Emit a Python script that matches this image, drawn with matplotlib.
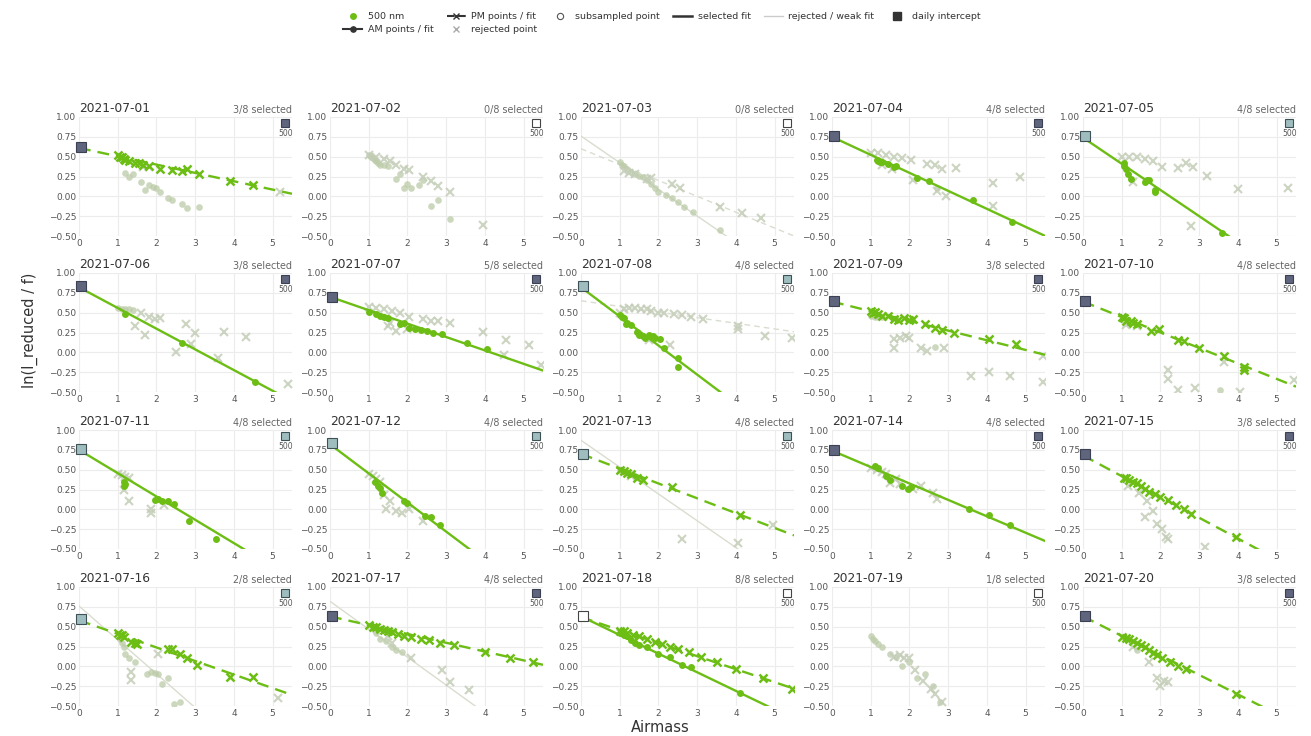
import numpy as np
import matplotlib
matplotlib.use("Agg")
import matplotlib.pyplot as plt
from matplotlib.lines import Line2D

# ---- data ----
dates = ["2021-07-01", "2021-07-02", "2021-07-03", "2021-07-04", "2021-07-05",
         "2021-07-06", "2021-07-07", "2021-07-08", "2021-07-09", "2021-07-10",
         "2021-07-11", "2021-07-12", "2021-07-13", "2021-07-14", "2021-07-15",
         "2021-07-16", "2021-07-17", "2021-07-18", "2021-07-19", "2021-07-20"]
n_selected = [3, 0, 0, 4, 4, 3, 5, 4, 3, 4, 4, 4, 4, 4, 3, 2, 4, 8, 1, 3]
quality = ["dark", "none", "none", "dark", "light", "dark", "dark", "light", "dark", "dark",
           "light", "light", "light", "dark", "dark", "light", "dark", "none", "none", "dark"]
intercepts = [0.62, None, None, 0.76, 0.76, 0.83, 0.70, 0.83, 0.65, 0.65,
              0.76, 0.83, 0.70, 0.75, 0.70, 0.60, 0.64, 0.63, None, 0.64]

# fits: (intercept, slope, selected?)  None = no fit drawn
am_fit = [None, None, (0.76, -0.336, False), (0.75, -0.227, True), (0.74, -0.33, True),
          (0.82, -0.261, True), (0.70, -0.169, True), (0.82, -0.367, True), None, None,
          (0.75, -0.294, True), (0.82, -0.367, True), (0.87, -0.338, False), (0.74, -0.207, True), None,
          (0.76, -0.427, False), (0.82, -0.352, False), (0.63, -0.235, True), None, None]
pm_fit = [(0.61, -0.105, True), None, (0.60, -0.20, False), None, None,
          None, None, (0.65, -0.071, False), (0.64, -0.122, True), (0.64, -0.195, True),
          None, None, (0.70, -0.187, True), None, (0.68, -0.262, True),
          (0.58, -0.171, True), (0.63, -0.111, True), (0.62, -0.164, True), None, (0.63, -0.246, True)]

# selected AM points (green circles)
am_sel = [
    [], [], [],
    [(1.15, 0.46), (1.2, 0.45), (1.25, 0.43), (1.3, 0.43), (1.45, 0.41), (1.6, 0.37), (1.65, 0.38),
     (2.2, 0.23), (2.5, 0.19), (3.65, -0.04), (4.65, -0.32)],
    [(1.05, 0.42), (1.07, 0.38), (1.1, 0.35), (1.15, 0.28), (1.25, 0.22), (1.6, 0.18), (1.65, 0.2),
     (1.7, 0.21), (1.85, 0.08), (1.87, 0.05), (3.6, -0.46)],
    [(1.2, 0.48), (2.65, 0.12), (4.55, -0.38)],
    [(1.0, 0.51), (1.2, 0.48), (1.3, 0.46), (1.4, 0.44), (1.5, 0.43), (1.8, 0.36), (1.9, 0.37),
     (2.05, 0.31), (2.2, 0.29), (2.35, 0.28), (2.5, 0.27), (2.65, 0.25), (2.9, 0.23), (3.55, 0.12), (4.05, 0.04)],
    [(1.0, 0.47), (1.05, 0.44), (1.1, 0.43), (1.15, 0.36), (1.2, 0.37), (1.3, 0.35), (1.45, 0.26),
     (1.5, 0.22), (1.6, 0.2), (1.65, 0.18), (1.75, 0.22), (1.85, 0.2), (1.9, 0.18), (2.05, 0.17),
     (2.15, 0.06), (2.5, -0.07), (2.5, -0.18)],
    [], [],
    [(1.15, 0.35), (1.17, 0.3), (1.2, 0.32), (1.95, 0.12), (2.05, 0.13), (2.15, 0.11), (2.3, 0.1),
     (2.45, 0.07), (2.85, -0.15), (3.55, -0.38)],
    [(1.15, 0.35), (1.25, 0.3), (1.3, 0.27), (1.35, 0.2), (1.9, 0.1), (2.0, 0.08), (2.45, -0.08),
     (2.6, -0.1), (2.85, -0.2)],
    [],
    [(1.1, 0.54), (1.2, 0.52), (1.4, 0.42), (1.5, 0.37), (1.8, 0.3), (1.95, 0.26), (2.05, 0.28),
     (3.55, 0.0), (4.05, -0.07), (4.6, -0.2)],
    [], [], [],
    [(1.0, 0.42), (1.1, 0.4), (1.2, 0.38), (1.3, 0.33), (1.4, 0.3), (1.5, 0.27), (1.7, 0.24),
     (2.0, 0.16), (2.3, 0.12), (2.6, 0.02), (2.85, -0.01), (4.1, -0.33)],
    [], [],
]

# selected PM points (green crosses)
pm_sel = [
    [(1.0, 0.52), (1.05, 0.5), (1.1, 0.49), (1.15, 0.47), (1.2, 0.46), (1.3, 0.45), (1.45, 0.42),
     (1.55, 0.42), (1.65, 0.4), (1.8, 0.38), (2.1, 0.34), (2.4, 0.33), (2.65, 0.32), (2.8, 0.35),
     (3.1, 0.28), (3.9, 0.19), (4.5, 0.14)],
    [], [], [], [], [], [], [],
    [(1.0, 0.52), (1.05, 0.5), (1.1, 0.51), (1.2, 0.48), (1.3, 0.46), (1.45, 0.46), (1.6, 0.42),
     (1.7, 0.41), (1.85, 0.43), (2.0, 0.41), (2.1, 0.42), (2.4, 0.36), (2.65, 0.31), (2.85, 0.28),
     (3.15, 0.25), (4.05, 0.17), (4.75, 0.1)],
    [(1.0, 0.45), (1.05, 0.43), (1.1, 0.4), (1.25, 0.39), (1.3, 0.37), (1.4, 0.36), (1.75, 0.27),
     (1.95, 0.3), (2.45, 0.16), (2.6, 0.14), (3.0, 0.06), (3.65, -0.04), (4.15, -0.18), (4.15, -0.22)],
    [], [],
    [(1.0, 0.5), (1.1, 0.48), (1.2, 0.46), (1.3, 0.44), (1.45, 0.4), (1.6, 0.37), (2.35, 0.28), (4.1, -0.07)],
    [],
    [(1.05, 0.4), (1.1, 0.39), (1.2, 0.37), (1.3, 0.35), (1.4, 0.33), (1.5, 0.3), (1.6, 0.26),
     (1.7, 0.22), (1.85, 0.19), (2.0, 0.15), (2.2, 0.12), (2.4, 0.05), (2.6, 0.0), (2.8, -0.06), (3.95, -0.35)],
    [(1.0, 0.42), (1.05, 0.4), (1.1, 0.39), (1.15, 0.37), (1.35, 0.31), (1.45, 0.3), (1.5, 0.28),
     (2.3, 0.22), (2.4, 0.22), (2.6, 0.15), (2.8, 0.1), (3.05, 0.02), (3.9, -0.13), (4.5, -0.14)],
    [(1.0, 0.52), (1.1, 0.5), (1.2, 0.49), (1.3, 0.47), (1.4, 0.46), (1.5, 0.44), (1.6, 0.43),
     (1.75, 0.41), (1.9, 0.38), (2.1, 0.37), (2.35, 0.34), (2.55, 0.33), (2.85, 0.3), (3.2, 0.27),
     (4.0, 0.18), (4.65, 0.11), (5.25, 0.05)],
    [(1.0, 0.45), (1.1, 0.44), (1.2, 0.42), (1.35, 0.4), (1.5, 0.38), (1.7, 0.34), (1.9, 0.31),
     (2.1, 0.28), (2.3, 0.25), (2.5, 0.22), (2.8, 0.18), (3.1, 0.12), (3.5, 0.06), (4.0, -0.03),
     (4.7, -0.15), (5.45, -0.28)],
    [],
    [(1.0, 0.37), (1.1, 0.36), (1.2, 0.34), (1.3, 0.32), (1.4, 0.3), (1.5, 0.27), (1.6, 0.24),
     (1.7, 0.2), (1.8, 0.17), (1.9, 0.14), (2.05, 0.1), (2.25, 0.05), (2.45, 0.01), (2.65, -0.03), (3.95, -0.35)],
]

# rejected AM points (pale circles)
am_rej = [
    [(1.2, 0.3), (1.3, 0.25), (1.4, 0.28), (1.6, 0.18), (1.7, 0.08), (1.8, 0.14), (1.9, 0.12),
     (2.0, 0.1), (2.1, 0.05), (2.3, -0.02), (2.4, -0.05), (2.65, -0.1), (2.8, -0.15), (3.1, -0.13)],
    [(1.0, 0.52), (1.05, 0.5), (1.1, 0.48), (1.15, 0.46), (1.2, 0.44), (1.25, 0.42), (1.3, 0.4),
     (1.4, 0.39), (1.5, 0.38), (1.7, 0.22), (1.8, 0.28), (1.9, 0.1), (2.0, 0.15), (2.1, 0.1),
     (2.3, 0.14), (2.4, 0.2), (2.6, -0.12), (2.8, -0.05), (3.1, -0.28)],
    [(1.0, 0.43), (1.05, 0.4), (1.1, 0.38), (1.2, 0.35), (1.3, 0.31), (1.4, 0.28), (1.5, 0.26),
     (1.6, 0.24), (1.7, 0.2), (1.8, 0.15), (1.9, 0.1), (2.0, 0.06), (2.2, 0.02), (2.35, -0.02),
     (2.5, -0.07), (2.65, -0.13), (2.9, -0.2), (3.6, -0.43)],
    [(2.7, 0.1)], [],
    [(1.0, 0.56), (1.1, 0.55), (1.2, 0.55), (1.3, 0.54), (1.4, 0.53)],
    [], [],
    [(1.0, 0.46), (1.1, 0.45), (1.2, 0.45), (1.3, 0.44), (2.65, 0.07)],
    [(3.55, -0.48)],
    [], [],
    [(1.0, 0.5), (1.1, 0.48), (1.2, 0.46), (1.3, 0.44), (1.4, 0.42), (1.5, 0.4)],
    [], [],
    [(1.05, 0.35), (1.1, 0.3), (1.15, 0.25), (1.2, 0.15), (1.3, 0.1), (1.45, 0.05), (1.75, -0.1),
     (1.85, -0.07), (1.95, -0.08), (2.05, -0.1), (2.15, -0.22), (2.3, -0.15), (2.45, -0.47), (2.6, -0.45)],
    [(1.2, 0.42), (1.3, 0.35), (1.45, 0.32), (1.6, 0.25), (1.7, 0.2), (1.85, 0.18)],
    [],
    [(1.0, 0.38), (1.05, 0.35), (1.1, 0.32), (1.2, 0.28), (1.3, 0.25), (1.5, 0.15), (1.65, 0.12),
     (1.8, 0.0), (2.0, 0.05), (2.2, -0.15), (2.4, -0.1), (2.6, -0.25), (2.8, -0.45)],
    [(1.4, 0.2)],
]

# rejected PM points (pale crosses)
pm_rej = [
    [(1.65, 0.37), (1.8, 0.37), (5.2, 0.05)],
    [(1.0, 0.52), (1.2, 0.5), (1.4, 0.47), (1.55, 0.45), (1.7, 0.4), (1.9, 0.35), (2.05, 0.33),
     (2.4, 0.25), (2.6, 0.19), (2.8, 0.13), (3.1, 0.06), (3.95, -0.36)],
    [(1.1, 0.32), (1.25, 0.3), (1.4, 0.28), (1.7, 0.22), (1.8, 0.23), (2.35, 0.15), (2.55, 0.1),
     (3.6, -0.14), (4.15, -0.21), (4.65, -0.27)],
    [(1.0, 0.55), (1.2, 0.54), (1.4, 0.52), (1.6, 0.5), (1.8, 0.48), (2.05, 0.46), (2.45, 0.41),
     (2.65, 0.4), (2.85, 0.35), (3.2, 0.36), (4.15, 0.17), (4.85, 0.25), (1.3, 0.4), (1.55, 0.35),
     (2.1, 0.21), (2.7, 0.07), (2.95, 0.0), (4.15, -0.12)],
    [(1.0, 0.5), (1.2, 0.5), (1.4, 0.49), (1.6, 0.47), (1.8, 0.45), (2.05, 0.37), (2.45, 0.36),
     (2.65, 0.42), (2.85, 0.37), (3.2, 0.26), (4.0, 0.09), (5.3, 0.11), (1.3, 0.18), (2.8, -0.38)],
    [(1.6, 0.49), (1.8, 0.44), (1.95, 0.42), (2.1, 0.43), (1.45, 0.33), (1.7, 0.22), (2.5, 0.01),
     (2.75, 0.36), (2.9, 0.1), (3.0, 0.25), (3.6, -0.07), (3.75, 0.26), (4.3, 0.19), (5.4, -0.4)],
    [(1.0, 0.57), (1.2, 0.56), (1.4, 0.54), (1.6, 0.52), (1.8, 0.5), (2.05, 0.45), (2.4, 0.42),
     (2.6, 0.4), (2.8, 0.4), (3.1, 0.37), (3.95, 0.26), (4.55, 0.15), (5.15, 0.09), (5.45, -0.16),
     (1.5, 0.33), (1.55, 0.37), (1.7, 0.27), (2.0, 0.3), (4.5, -0.03)],
    [(1.0, 0.5), (1.1, 0.55), (1.25, 0.56), (1.4, 0.56), (1.55, 0.55), (1.7, 0.54), (1.8, 0.52),
     (2.0, 0.5), (2.15, 0.5), (2.4, 0.48), (2.6, 0.47), (2.85, 0.45), (3.15, 0.42), (4.05, 0.3),
     (4.05, 0.33), (4.75, 0.2), (5.45, 0.18), (2.3, 0.09), (1.75, 0.16)],
    [(1.6, 0.17), (1.6, 0.06), (1.75, 0.18), (1.9, 0.2), (2.0, 0.18), (2.3, 0.06), (2.45, 0.02),
     (2.9, 0.06), (3.6, -0.3), (4.05, -0.25), (4.6, -0.3), (5.45, -0.38), (5.45, -0.04)],
    [(1.1, 0.35), (1.4, 0.33), (2.2, -0.22), (2.2, -0.33), (2.45, -0.48), (2.9, -0.45), (3.65, -0.12),
     (4.05, -0.5), (5.45, -0.35)],
    [(1.0, 0.45), (1.1, 0.43), (1.2, 0.41), (1.3, 0.4), (1.15, 0.25), (1.3, 0.1), (1.85, -0.05),
     (1.85, 0.0), (2.2, 0.05)],
    [(1.0, 0.45), (1.1, 0.42), (1.2, 0.38), (1.3, 0.35), (1.4, 0.18), (1.45, 0.0), (1.55, 0.1),
     (1.7, -0.02), (1.85, -0.04), (2.05, 0.0), (2.4, -0.15)],
    [(1.3, 0.42), (2.6, -0.38), (4.05, -0.42), (4.95, -0.2)],
    [(1.0, 0.52), (1.15, 0.5), (1.3, 0.47), (1.4, 0.45), (1.5, 0.33), (1.65, 0.38), (1.75, 0.32),
     (2.1, 0.26), (2.3, 0.3), (2.6, 0.2), (2.7, 0.13)],
    [(1.15, 0.3), (1.45, 0.2), (1.6, -0.1), (1.65, 0.1), (1.8, -0.02), (1.9, -0.18), (2.05, -0.25),
     (2.15, -0.35), (2.2, -0.38), (3.15, -0.47)],
    [(1.35, -0.07), (1.35, -0.17), (2.05, 0.15), (5.15, -0.4)],
    [(1.5, 0.38), (1.6, 0.3), (2.1, 0.1), (2.9, -0.05), (3.1, -0.2), (3.6, -0.3)],
    [],
    [(1.6, 0.12), (1.75, 0.14), (1.85, 0.1), (2.0, 0.1), (2.15, -0.05), (2.35, -0.18), (2.55, -0.28),
     (2.65, -0.35), (2.85, -0.45)],
    [(1.3, 0.25), (1.7, 0.05), (1.9, -0.15), (2.0, -0.25), (2.1, -0.18), (2.2, -0.2)],
]

GREEN = "#6cbd14"
PALE_DOT = "#bccba8"
PALE_X = "#c4cdb8"
PALE_LINE = "#d9ddcf"
SQ = {"dark": ("#5e657d", "#3b4052"), "light": ("#9fbdbf", "#3e5155"), "none": ("#ffffff", "#444444")}

plt.rcParams["font.family"] = "DejaVu Sans"
fig = plt.figure(figsize=(13.11, 7.36), dpi=100)

lefts = [79, 330, 581, 832, 1083]
tops = [117, 273, 430, 587]
W, H = 213, 119
xx = np.array([0.0, 5.5])

for i, d in enumerate(dates):
    r, c = divmod(i, 5)
    ax = fig.add_axes([lefts[c] / 1311, 1 - (tops[r] + H) / 736, W / 1311, H / 736])
    ax.set_xlim(0, 5.5)
    ax.set_ylim(-0.5, 1.0)
    ax.set_xticks([0, 1, 2, 3, 4, 5])
    ax.set_yticks([-0.5, -0.25, 0, 0.25, 0.5, 0.75, 1.0])
    ax.set_yticklabels(["\u22120.50", "\u22120.25", "0.00", "0.25", "0.50", "0.75", "1.00"])
    ax.grid(True, color="#ececec", lw=0.8)
    ax.set_axisbelow(True)
    for s in ax.spines.values():
        s.set_visible(False)
    ax.tick_params(length=0, labelsize=6.5, labelcolor="#555555", pad=2)

    # rejected points
    if am_rej[i]:
        p = np.array(am_rej[i])
        ax.plot(p[:, 0], p[:, 1], "o", ms=4.8, color=PALE_DOT, alpha=0.75, mew=0, zorder=2)
    if pm_rej[i]:
        p = np.array(pm_rej[i])
        ax.plot(p[:, 0], p[:, 1], "x", ms=5.5, mew=1.5, color=PALE_X, alpha=0.85, zorder=2)

    # fits
    if am_fit[i] is not None:
        a, b, ok = am_fit[i]
        if ok:
            ax.plot(xx, a + b * xx, "-", color=GREEN, lw=1.7, zorder=3)
        else:
            ax.plot(xx, a + b * xx, "-", color=PALE_LINE, lw=1.0, zorder=1)
    if pm_fit[i] is not None:
        a, b, ok = pm_fit[i]
        if ok:
            ax.plot(xx, a + b * xx, "--", color=GREEN, lw=1.7, dashes=(5, 3), zorder=3)
        else:
            ax.plot(xx, a + b * xx, "--", color=PALE_LINE, lw=1.0, dashes=(4, 3), zorder=1)

    # selected points
    if am_sel[i]:
        p = np.array(am_sel[i])
        ax.plot(p[:, 0], p[:, 1], "o", ms=5, color=GREEN, mew=0, zorder=4)
    if pm_sel[i]:
        p = np.array(pm_sel[i])
        ax.plot(p[:, 0], p[:, 1], "x", ms=5.8, mew=1.8, color=GREEN, zorder=4)

    fc, ec = SQ[quality[i]]
    if intercepts[i] is not None:
        ax.plot([0.05], [intercepts[i]], "s", ms=6.8, mfc=fc, mec=ec, mew=0.8, clip_on=False, zorder=5)

    # per-wavelength quality marker
    ax.plot([0.968], [0.95], "s", ms=5.8, mfc=fc, mec=ec, mew=0.8, transform=ax.transAxes,
            clip_on=False, zorder=5)
    ax.text(0.968, 0.865, "500", transform=ax.transAxes, ha="center", va="center",
            fontsize=5.5, color="#555555")

    ax.text(0.0, 1.02, d, transform=ax.transAxes, ha="left", va="bottom", fontsize=8.8, color="#333333")
    ax.text(1.0, 1.02, f"{n_selected[i]}/8 selected", transform=ax.transAxes, ha="right",
            va="bottom", fontsize=6.9, color="#666666")

fig.text(30 / 1311, 1 - 330 / 736, "ln(I_reduced / f)", rotation=90, ha="center", va="center",
         fontsize=10.5, color="#333333")
fig.text(660 / 1311, 1 - 728 / 736, "Airmass", ha="center", va="center", fontsize=10.5, color="#333333")

handles = [
    Line2D([], [], ls="none", marker="o", ms=5, color=GREEN, mew=0),
    Line2D([], [], ls="-", marker="o", ms=3.8, color="#333333", lw=1.5),
    Line2D([], [], ls="--", marker="x", ms=4.5, color="#333333", lw=1.5),
    Line2D([], [], ls="none", marker="x", ms=4.5, color="#aaaaaa", mew=1),
    Line2D([], [], ls="none", marker="o", ms=4.5, mfc="white", mec="#555555", mew=0.8),
    Line2D([], [], ls="-", color="#333333", lw=1.8),
    Line2D([], [], ls="-", color="#cccccc", lw=1.0),
    Line2D([], [], ls="none", marker="s", ms=5.5, color="#333333"),
]
labels = ["500 nm", "AM points / fit", "PM points / fit", "rejected point",
          "subsampled point", "selected fit", "rejected / weak fit", "daily intercept"]
fig.legend(handles, labels, loc="center", bbox_to_anchor=(662 / 1311, 1 - 23 / 736), ncol=6,
           frameon=False, fontsize=6.8, handlelength=2.0, columnspacing=1.4, handletextpad=0.6,
           labelspacing=0.45, labelcolor="#333333")

fig.savefig("out.png", dpi=100)
